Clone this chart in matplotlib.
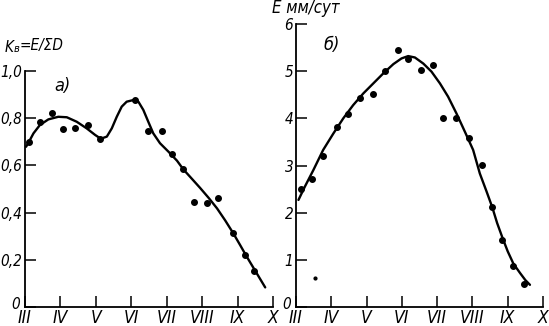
import matplotlib
matplotlib.use("Agg")
import matplotlib.pyplot as plt
import matplotlib.transforms as mtransforms

plt.rcParams['font.family'] = ['DejaVu Sans']
plt.rcParams['font.style'] = 'italic'
plt.rcParams['font.stretch'] = 'condensed'
plt.rcParams['font.size'] = 11

months = ['III', 'IV', 'V', 'VI', 'VII', 'VIII', 'IX', 'X']

# a) K_v = E / sum(D): observed points and the fitted curve
kv_x = [0.12, 0.42, 0.75, 1.08, 1.41, 1.79, 2.12, 3.11, 3.48, 3.86, 4.16, 4.45,
        4.77, 5.15, 5.46, 5.88, 6.22, 6.45]
kv_y = [0.70, 0.784, 0.823, 0.753, 0.757, 0.771, 0.713, 0.877, 0.744, 0.744, 0.647,
        0.585, 0.446, 0.441, 0.462, 0.312, 0.219, 0.154]
kv_fit_x = [0.03, 0.09, 0.24, 0.42, 0.66, 0.94, 1.18, 1.46, 1.74, 1.98, 2.14, 2.31,
            2.45, 2.59, 2.73, 2.87, 3.06, 3.20, 3.34, 3.48, 3.62, 3.81, 4.05, 4.29,
            4.47, 4.70, 4.94, 5.18, 5.42, 5.65, 5.88, 6.07, 6.26, 6.52, 6.78]
kv_fit_y = [0.679, 0.694, 0.736, 0.771, 0.795, 0.806, 0.804, 0.785, 0.757, 0.729,
            0.713, 0.722, 0.757, 0.806, 0.849, 0.870, 0.877, 0.870, 0.835, 0.785,
            0.736, 0.694, 0.658, 0.620, 0.583, 0.545, 0.505, 0.463, 0.418, 0.367,
            0.312, 0.263, 0.213, 0.148, 0.083]

# б) evaporation E, mm/day
e_x = [0.14, 0.46, 0.77, 1.15, 1.48, 1.81, 2.17, 2.52, 2.88, 3.18, 3.53, 3.89, 4.17,
       4.53, 4.91, 5.27, 5.56, 5.84, 6.14, 6.46]
e_y = [2.51, 2.72, 3.21, 3.82, 4.10, 4.43, 4.51, 5.01, 5.44, 5.25, 5.02, 5.14, 4.01,
       4.01, 3.59, 3.02, 2.12, 1.42, 0.875, 0.487]
e_stray_x = [0.54]
e_stray_y = [0.62]
e_fit_x = [0.07, 0.25, 0.49, 0.77, 1.06, 1.34, 1.62, 1.91, 2.19, 2.47, 2.76, 2.99,
           3.18, 3.37, 3.61, 3.84, 4.08, 4.31, 4.55, 4.79, 5.02, 5.21, 5.40, 5.56,
           5.70, 5.86, 6.00, 6.16, 6.35, 6.50, 6.63]
e_fit_y = [2.27, 2.55, 2.90, 3.33, 3.68, 4.00, 4.28, 4.53, 4.74, 4.95, 5.15, 5.27,
           5.32, 5.29, 5.16, 4.99, 4.74, 4.46, 4.10, 3.71, 3.33, 2.83, 2.45, 2.12,
           1.78, 1.45, 1.18, 0.92, 0.72, 0.57, 0.47]

kv_ticks = [0, 0.2, 0.4, 0.6, 0.8, 1.0]
kv_labels = ['0', '0,2', '0,4', '0,6', '0,8', '1,0']
e_ticks = [0, 1, 2, 3, 4, 5, 6]

W, H = 549, 326
fig = plt.figure(figsize=(W / 100, H / 100), dpi=100)


def px(x0, y0, x1, y1):
    # pixel box (left, top, right, bottom) -> figure fraction rect
    return [x0 / W, 1 - y1 / H, (x1 - x0) / W, (y1 - y0) / H]


ax1 = fig.add_axes(px(25, 71, 273, 307))
ax2 = fig.add_axes(px(296, 24, 543, 307))

for ax in (ax1, ax2):
    for s in ('top', 'right'):
        ax.spines[s].set_visible(False)
    for s in ('left', 'bottom'):
        ax.spines[s].set_linewidth(1.3)
    ax.set_xlim(0, 7)
    ax.set_xticks(range(len(months)))
    ax.set_xticklabels(months)
    ax.tick_params(direction='in', length=8, width=1.1)
    ax.tick_params(axis='x', pad=1.5, labelsize=12.5)
    ax.tick_params(axis='y', pad=2, labelsize=11)
    ax.patch.set_alpha(0)

ax1.set_ylim(0, 1.0)
ax1.set_yticks(kv_ticks)
ax1.set_yticklabels(kv_labels)
ax1.plot(kv_fit_x, kv_fit_y, color='black', lw=1.7, solid_capstyle='round',
         solid_joinstyle='round', clip_on=False)
ax1.plot(kv_x, kv_y, 'o', color='black', ms=4, clip_on=False)
ax1.text(1.05, 0.936, 'a)', fontsize=13, ha='center', va='center')

ax2.set_ylim(0, 6)
ax2.set_yticks(e_ticks)
ax2.plot(e_fit_x, e_fit_y, color='black', lw=1.7, solid_capstyle='round',
         solid_joinstyle='round', clip_on=False)
ax2.plot(e_x, e_y, 'o', color='black', ms=4, clip_on=False)
ax2.plot(e_stray_x, e_stray_y, 'o', color='black', ms=2, clip_on=False)
ax2.text(1.02, 5.55, 'б)', fontsize=13, ha='center', va='center')

# lift the zero labels a little so they clear the month names
nudge = mtransforms.ScaledTranslation(-2 / 100, 4 / 100, fig.dpi_scale_trans)
for ax in (ax1, ax2):
    zero = ax.get_yticklabels()[0]
    zero.set_transform(zero.get_transform() + nudge)

# axis titles
t1 = fig.text(5 / W, 1 - 47 / H, 'K', fontsize=11, va='center', ha='left')
sub = ax1.annotate('в', xy=(1, 0), xycoords=t1, fontsize=8, va='bottom',
                   ha='left', annotation_clip=False)
ax1.annotate('=E/ΣD', xy=(1, 0.15), xycoords=sub, fontsize=11, va='bottom',
             ha='left', annotation_clip=False)
fig.text(272 / W, 1 - 8 / H, 'E мм/сут', fontsize=12, va='center', ha='left')

fig.savefig('out.png', dpi=100)
